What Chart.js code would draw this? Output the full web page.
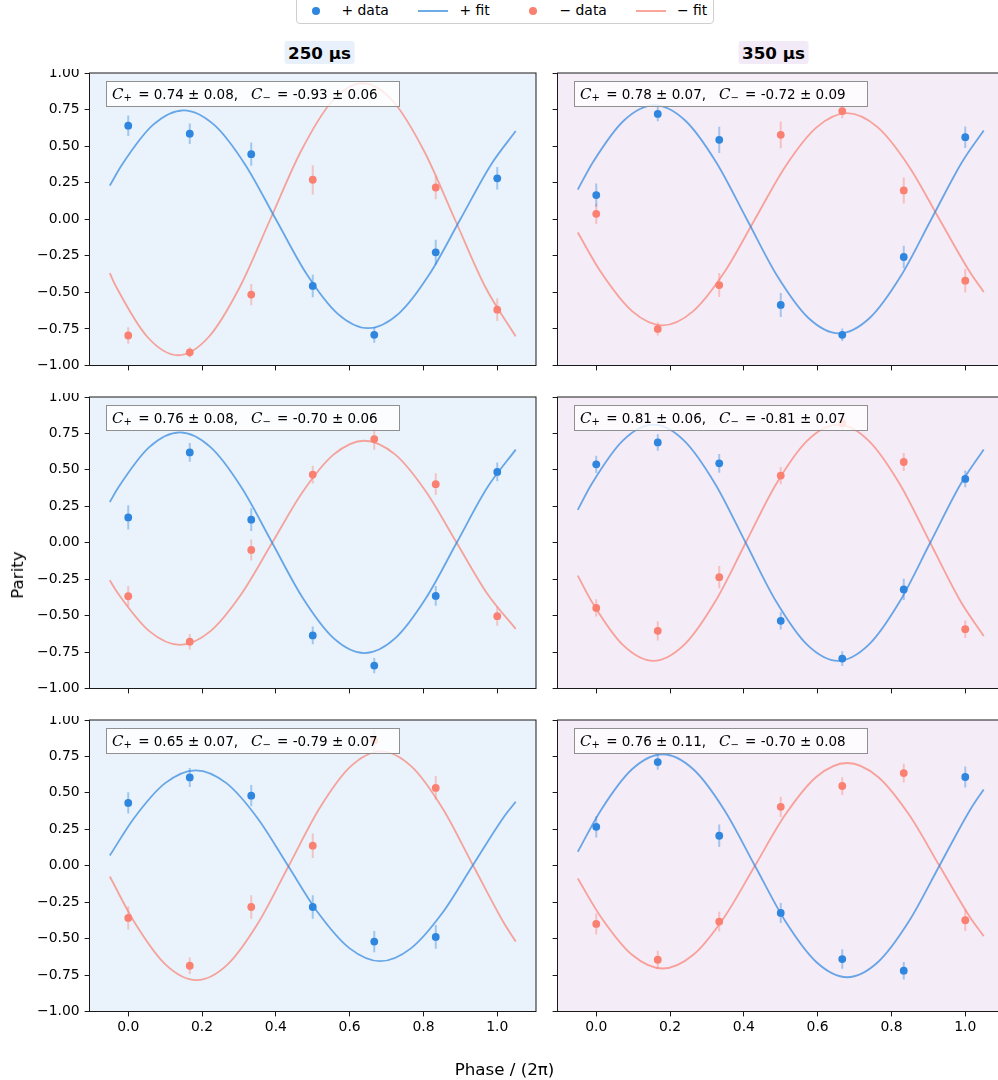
<!DOCTYPE html>
<html>
<head>
<meta charset="utf-8">
<script src="https://cdn.jsdelivr.net/npm/chart.js@4/dist/chart.umd.min.js"></script>
<style>
html,body{margin:0;padding:0;background:#fff;overflow:hidden;width:998px;height:1080px;}
#fig{position:relative;width:998px;height:1080px;overflow:hidden;font-family:"DejaVu Sans",sans-serif;color:#000;}
#fig canvas{position:absolute;}
.ann{position:absolute;height:24px;line-height:24px;padding:0 21px 0 5px;border:1px solid #909090;background:rgba(255,255,255,0.8);font-size:13.5px;white-space:nowrap;}
.ann .C{font-family:"DejaVu Serif",serif;font-style:italic;font-size:15px;}
.ann sub{font-size:10px;vertical-align:-2px;line-height:0;margin-right:2px;}
.ttl{position:absolute;font-weight:bold;font-size:16.7px;line-height:20px;padding:2px 4px 1px 4px;border-radius:3px;transform:translateX(-50%);white-space:nowrap;}
.lg{position:absolute;font-size:13.9px;line-height:20px;white-space:nowrap;}
</style>
</head>
<body>
<div id="fig"></div>
<script>
// ---------------- data ----------------
const phase = [0, 0.1667, 0.3333, 0.5, 0.6667, 0.8333, 1.0];
const xTicks = [0, 0.2, 0.4, 0.6, 0.8, 1.0];
const yTicks = [-1, -0.75, -0.5, -0.25, 0, 0.25, 0.5, 0.75, 1];
const columnTitles = ['250 µs', '350 µs'];
const legendLabels = ['+ data', '+ fit', '− data', '− fit'];

// row 1
const plus250a   = [0.64, 0.585, 0.445, -0.456, -0.79, -0.226, 0.28];
const plusErr250a= [0.07, 0.07, 0.08, 0.077, 0.055, 0.085, 0.077];
const minus250a  = [-0.795, -0.91, -0.515, 0.27, null, 0.217, -0.618];
const minusErr250a=[0.057, 0.035, 0.073, 0.10, null, 0.08, 0.077];
const plus350a   = [0.165, 0.72, 0.543, -0.586, -0.79, -0.258, 0.561];
const plusErr350a= [0.08, 0.05, 0.09, 0.082, 0.043, 0.077, 0.073];
const minus350a  = [0.037, -0.75, -0.45, 0.577, 0.74, 0.197, -0.42];
const minusErr350a=[0.07, 0.045, 0.082, 0.092, 0.05, 0.089, 0.08];
// row 2
const plus250b   = [0.174, 0.62, 0.158, -0.636, -0.843, -0.365, 0.486];
const plusErr250b= [0.083, 0.065, 0.078, 0.061, 0.053, 0.068, 0.064];
const minus250b  = [-0.367, -0.679, -0.049, 0.468, 0.711, 0.402, -0.504];
const minusErr250b=[0.07, 0.053, 0.072, 0.061, 0.073, 0.075, 0.065];
const plus350b   = [0.538, 0.688, 0.545, -0.536, -0.795, -0.32, 0.438];
const plusErr350b= [0.059, 0.057, 0.064, 0.059, 0.05, 0.073, 0.057];
const minus350b  = [-0.447, -0.604, -0.236, 0.461, 0.82, 0.554, -0.593];
const minusErr350b=[0.059, 0.066, 0.077, 0.059, 0.05, 0.061, 0.06];
// row 3
const plus250c   = [0.431, 0.606, 0.481, -0.283, -0.52, -0.488, null];
const plusErr250c= [0.073, 0.065, 0.073, 0.08, 0.073, 0.082, null];
const minus250c  = [-0.358, -0.686, -0.283, 0.138, 0.86, 0.534, null];
const minusErr250c=[0.08, 0.056, 0.08, 0.084, 0.07, 0.082, null];
const plus350c   = [0.267, 0.711, 0.206, -0.324, -0.64, -0.72, 0.609];
const plusErr350c= [0.073, 0.053, 0.077, 0.068, 0.067, 0.06, 0.072];
const minus350c  = [-0.399, -0.645, -0.383, 0.404, 0.547, 0.636, -0.374];
const minusErr350c=[0.072, 0.061, 0.068, 0.07, 0.061, 0.064, 0.073];

// fit curves, points [phase, parity]
const fitPlus250a = [[-0.05,0.230],[-0.017,0.373],[0.067,0.645],[0.15,0.745],[0.233,0.645],[0.317,0.373],[0.4,0],[0.483,-0.373],[0.567,-0.645],[0.65,-0.745],[0.733,-0.645],[0.817,-0.373],[0.9,0],[0.983,0.373],[1.05,0.603]];
const fitMinus250a = [[-0.05,-0.369],[-0.032,-0.465],[0.052,-0.805],[0.135,-0.93],[0.218,-0.805],[0.302,-0.465],[0.385,0],[0.468,0.465],[0.552,0.805],[0.635,0.93],[0.718,0.805],[0.802,0.465],[0.885,0],[0.968,-0.465],[1.05,-0.801]];
const fitPlus350a = [[-0.05,0.203],[-0.009,0.39],[0.075,0.675],[0.158,0.78],[0.241,0.675],[0.325,0.39],[0.408,0],[0.491,-0.39],[0.575,-0.675],[0.658,-0.78],[0.741,-0.675],[0.825,-0.39],[0.908,0],[0.991,0.39],[1.05,0.607]];
const fitMinus350a = [[-0.05,-0.091],[0.013,-0.363],[0.097,-0.628],[0.18,-0.725],[0.263,-0.628],[0.347,-0.363],[0.43,0],[0.513,0.363],[0.597,0.628],[0.68,0.725],[0.763,0.628],[0.847,0.363],[0.93,0],[1.013,-0.363],[1.05,-0.497]];
const fitPlus250b = [[-0.05,0.279],[-0.027,0.379],[0.057,0.656],[0.14,0.757],[0.223,0.656],[0.307,0.379],[0.39,0],[0.473,-0.379],[0.557,-0.656],[0.64,-0.757],[0.723,-0.656],[0.807,-0.379],[0.89,0],[0.973,0.379],[1.05,0.639]];
const fitMinus250b = [[-0.05,-0.258],[-0.027,-0.35],[0.057,-0.606],[0.14,-0.70],[0.223,-0.606],[0.307,-0.35],[0.39,0],[0.473,0.35],[0.557,0.606],[0.64,0.70],[0.723,0.606],[0.807,0.35],[0.89,0],[0.973,-0.35],[1.05,-0.591]];
const fitPlus350b = [[-0.05,0.226],[-0.012,0.405],[0.072,0.701],[0.155,0.81],[0.238,0.701],[0.322,0.405],[0.405,0],[0.488,-0.405],[0.572,-0.701],[0.655,-0.81],[0.738,-0.701],[0.822,-0.405],[0.905,0],[0.988,0.405],[1.05,0.640]];
const fitMinus350b = [[-0.05,-0.226],[-0.012,-0.405],[0.072,-0.701],[0.155,-0.81],[0.238,-0.701],[0.322,-0.405],[0.405,0],[0.488,0.405],[0.572,0.701],[0.655,0.81],[0.738,0.701],[0.822,0.405],[0.905,0],[0.988,-0.405],[1.05,-0.640]];
const fitPlus250c = [[-0.05,0.070],[0.016,0.328],[0.1,0.567],[0.183,0.655],[0.266,0.567],[0.35,0.328],[0.433,0],[0.516,-0.328],[0.6,-0.567],[0.683,-0.655],[0.766,-0.567],[0.85,-0.328],[0.933,0],[1.016,0.328],[1.05,0.439]];
const fitMinus250c = [[-0.05,-0.074],[0.018,-0.393],[0.102,-0.68],[0.185,-0.785],[0.268,-0.68],[0.352,-0.393],[0.435,0],[0.518,0.393],[0.602,0.68],[0.685,0.785],[0.768,0.68],[0.852,0.393],[0.935,0],[1.018,-0.393],[1.05,-0.519]];
const fitPlus350c = [[-0.05,0.096],[0.013,0.383],[0.097,0.662],[0.18,0.765],[0.263,0.662],[0.347,0.383],[0.43,0],[0.513,-0.383],[0.597,-0.662],[0.68,-0.765],[0.763,-0.662],[0.847,-0.383],[0.93,0],[1.013,0.383],[1.05,0.524]];
const fitMinus350c = [[-0.05,-0.088],[0.013,-0.353],[0.097,-0.611],[0.18,-0.705],[0.263,-0.611],[0.347,-0.353],[0.43,0],[0.513,0.353],[0.597,0.611],[0.68,0.705],[0.763,0.611],[0.847,0.353],[0.93,0],[1.013,-0.353],[1.05,-0.483]];

// contrast annotations (panel order: row1 L,R, row2 L,R, row3 L,R)
const contrastPlus  = ['0.74 ± 0.08', '0.78 ± 0.07', '0.76 ± 0.08', '0.81 ± 0.06', '0.65 ± 0.07', '0.76 ± 0.11'];
const contrastMinus = ['-0.93 ± 0.06', '-0.72 ± 0.09', '-0.70 ± 0.06', '-0.81 ± 0.07', '-0.79 ± 0.07', '-0.70 ± 0.08'];

// ---------------- styling / layout ----------------
const BLUE = '#2E86DE', RED = '#FA8072';
const BLUE_LINE = 'rgba(46,134,222,0.7)', RED_LINE = 'rgba(250,128,114,0.7)';
const BLUE_ERR = 'rgba(46,134,222,0.4)', RED_ERR = 'rgba(250,128,114,0.4)';
const colBg = ['#EAF2FB', '#F4ECF7'];
const colCanvasLeft = [0, 537], colCanvasW = [540, 471], colAxisW = [89.5, 20.5];
const rowCanvasTop = [69, 393, 716], rowCanvasH = [307, 306, 346], rowXH = [10.5, 10.5, 50.5];
const FONT = '"DejaVu Sans", sans-serif';
Chart.defaults.font.family = FONT;

const panels = [
  {col:0,row:0,plus:plus250a,plusErr:plusErr250a,minus:minus250a,minusErr:minusErr250a,fitP:fitPlus250a,fitM:fitMinus250a},
  {col:1,row:0,plus:plus350a,plusErr:plusErr350a,minus:minus350a,minusErr:minusErr350a,fitP:fitPlus350a,fitM:fitMinus350a},
  {col:0,row:1,plus:plus250b,plusErr:plusErr250b,minus:minus250b,minusErr:minusErr250b,fitP:fitPlus250b,fitM:fitMinus250b},
  {col:1,row:1,plus:plus350b,plusErr:plusErr350b,minus:minus350b,minusErr:minusErr350b,fitP:fitPlus350b,fitM:fitMinus350b},
  {col:0,row:2,plus:plus250c,plusErr:plusErr250c,minus:minus250c,minusErr:minusErr250c,fitP:fitPlus250c,fitM:fitMinus250c},
  {col:1,row:2,plus:plus350c,plusErr:plusErr350c,minus:minus350c,minusErr:minusErr350c,fitP:fitPlus350c,fitM:fitMinus350c}
];

const fig = document.getElementById('fig');

function pts(xs, ys){ const d=[]; xs.forEach((x,i)=>{ if(ys[i]!==null) d.push({x:x,y:ys[i]}); }); return d; }
function errPts(xs, ys, es){ const d=[]; xs.forEach((x,i)=>{ if(ys[i]===null) return; d.push({x:x,y:ys[i]-es[i]},{x:x,y:ys[i]+es[i]},{x:x,y:null}); }); return d; }
function fitPts(arr){ return arr.map(p=>({x:p[0],y:p[1]})); }
function fmtY(v){ return (v<0?'\u2212':'') + Math.abs(v).toFixed(2); }

const deco = {
  id:'deco',
  beforeDraw(chart, args, opts){
    const a=chart.chartArea, c=chart.ctx;
    c.save(); c.fillStyle=opts.bg; c.fillRect(a.left,a.top,a.right-a.left,a.bottom-a.top); c.restore();
  },
  afterDatasetsDraw(chart){
    const a=chart.chartArea, c=chart.ctx;
    c.save(); c.strokeStyle='#1a1a1a'; c.lineWidth=1;
    c.strokeRect(a.left, a.top, a.right-a.left, a.bottom-a.top);
    c.restore();
  }
};

panels.forEach((p, idx)=>{
  const col=p.col, row=p.row;
  const W=colCanvasW[col], H=rowCanvasH[row];
  const cv=document.createElement('canvas');
  cv.width=W; cv.height=H;
  cv.style.left=colCanvasLeft[col]+'px'; cv.style.top=rowCanvasTop[row]+'px';
  cv.style.width=W+'px'; cv.style.height=H+'px';
  fig.appendChild(cv);
  const showX = row===2, showY = col===0;
  const tickFont = {family:FONT, size:13.9};
  new Chart(cv, {
    type:'line',
    data:{datasets:[
      {label:'+ data', data:pts(phase,p.plus), showLine:false, pointRadius:3.9, pointBorderWidth:0, pointBackgroundColor:BLUE, borderColor:BLUE, backgroundColor:BLUE, order:0},
      {label:'− data', data:pts(phase,p.minus), showLine:false, pointRadius:3.9, pointBorderWidth:0, pointBackgroundColor:RED, borderColor:RED, backgroundColor:RED, order:0},
      {label:'+ err', data:errPts(phase,p.plus,p.plusErr), showLine:true, spanGaps:false, pointRadius:0, borderWidth:2, borderColor:BLUE_ERR, borderCapStyle:'butt', order:1},
      {label:'− err', data:errPts(phase,p.minus,p.minusErr), showLine:true, spanGaps:false, pointRadius:0, borderWidth:2, borderColor:RED_ERR, borderCapStyle:'butt', order:1},
      {label:'+ fit', data:fitPts(p.fitP), showLine:true, pointRadius:0, borderWidth:1.8, borderColor:BLUE_LINE, cubicInterpolationMode:'monotone', order:2},
      {label:'− fit', data:fitPts(p.fitM), showLine:true, pointRadius:0, borderWidth:1.8, borderColor:RED_LINE, cubicInterpolationMode:'monotone', order:2}
    ]},
    options:{
      responsive:false, animation:false, events:[],
      layout:{padding:{left:0, top:2.5, right:3.5, bottom:0}},
      plugins:{legend:{display:false}, tooltip:{enabled:false}, deco:{bg:colBg[col]}},
      scales:{
        x:{type:'linear', min:-0.105, max:1.105,
           grid:{display:true, drawOnChartArea:false, drawTicks:true, tickLength:4.9, tickWidth:1, tickColor:'#1a1a1a'},
           border:{display:false},
           ticks:{display:showX, color:'#000', font:tickFont, padding:3, maxRotation:0, autoSkip:false, callback:(v)=>Number(v).toFixed(1)},
           afterBuildTicks:(s)=>{ s.ticks = xTicks.map(v=>({value:v})); },
           afterFit:(s)=>{ s.height=rowXH[row]; s.paddingLeft=0; s.paddingRight=0; s.paddingTop=0; s.paddingBottom=0; }
        },
        y:{type:'linear', min:-1, max:1,
           grid:{display:true, drawOnChartArea:false, drawTicks:true, tickLength:4.9, tickWidth:1, tickColor:'#1a1a1a'},
           border:{display:false},
           ticks:{display:showY, color:'#000', font:tickFont, padding:5, autoSkip:false, callback:(v)=>fmtY(Number(v))},
           afterBuildTicks:(s)=>{ s.ticks = yTicks.map(v=>({value:v})); },
           afterFit:(s)=>{ s.width=colAxisW[col]; s.paddingTop=0; s.paddingBottom=0; s.paddingLeft=0; s.paddingRight=0; }
        }
      }
    },
    plugins:[deco]
  });
  // annotation box
  const chartLeft = colCanvasLeft[col] + colAxisW[col];
  const chartTop = rowCanvasTop[row] + 2.5;
  const ann = document.createElement('div');
  ann.className='ann';
  ann.style.left = Math.round(chartLeft + 16.5) + 'px';
  ann.style.top = Math.round(chartTop + 9.5) + 'px';
  ann.innerHTML = '<span class="C">C</span><sub>+</sub> = ' + contrastPlus[idx] + ',&nbsp;&nbsp; <span class="C">C</span><sub>\u2212</sub> = ' + contrastMinus[idx];
  fig.appendChild(ann);
});

// column titles
const titleCenters = [319.5, 773.5];
columnTitles.forEach((t,i)=>{
  const d=document.createElement('div');
  d.className='ttl'; d.textContent=t;
  d.style.left=titleCenters[i]+'px'; d.style.top='41px';
  d.style.background = i===0 ? '#E8F1FB' : '#F3EAF7';
  fig.appendChild(d);
});

// axis labels
const yl=document.createElement('div');
yl.textContent='Parity';
yl.style.cssText='position:absolute;font-size:16.7px;line-height:20px;white-space:nowrap;left:17px;top:575px;transform:translate(-50%,-50%) rotate(-90deg);';
fig.appendChild(yl);
const xl=document.createElement('div');
xl.textContent='Phase / (2\u03C0)';
xl.style.cssText='position:absolute;font-size:16.7px;line-height:20px;white-space:nowrap;left:504.5px;top:1069px;transform:translate(-50%,-50%);';
fig.appendChild(xl);

// legend
const lgBox=document.createElement('div');
lgBox.style.cssText='position:absolute;left:296px;top:-3px;width:416px;height:25px;border:1px solid #cfcfcf;border-radius:4px;background:rgba(255,255,255,0.85);';
fig.appendChild(lgBox);
function addEl(css){ const e=document.createElement('div'); e.style.cssText='position:absolute;'+css; fig.appendChild(e); return e; }
addEl('left:311.7px;top:6.5px;width:8px;height:8px;border-radius:50%;background:'+BLUE+';');
addEl('left:529.3px;top:6.5px;width:8px;height:8px;border-radius:50%;background:'+RED+';');
addEl('left:418px;top:9.5px;width:30px;height:2px;background:'+BLUE_LINE+';');
addEl('left:636px;top:9.5px;width:30px;height:2px;background:'+RED_LINE+';');
const lgX=[341.5, 459.5, 559.5, 677];
legendLabels.forEach((t,i)=>{ const e=addEl('top:0px;'); e.className='lg'; e.textContent=t; e.style.left=lgX[i]+'px'; });
</script>
</body>
</html>
